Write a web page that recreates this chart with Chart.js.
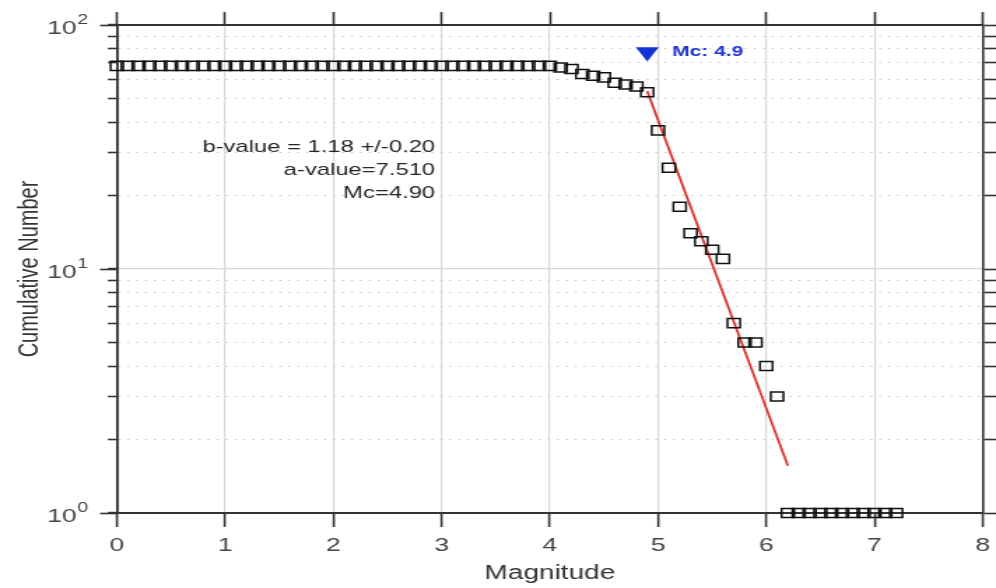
<!DOCTYPE html>
<html>
<head>
<meta charset="utf-8">
<script src="https://cdn.jsdelivr.net/npm/chart.js@4.4.1/dist/chart.umd.min.js"></script>
<style>
html,body{margin:0;padding:0;background:#fff;overflow:hidden}
#c{display:block;width:996px!important;height:588px!important}
</style>
</head>
<body>
<canvas id="c" width="712" height="588" style="width:996px;height:588px"></canvas>
<script>
// ---- data ----
const magnitudes = [
  0.0,0.1,0.2,0.3,0.4,0.5,0.6,0.7,0.8,0.9,
  1.0,1.1,1.2,1.3,1.4,1.5,1.6,1.7,1.8,1.9,
  2.0,2.1,2.2,2.3,2.4,2.5,2.6,2.7,2.8,2.9,
  3.0,3.1,3.2,3.3,3.4,3.5,3.6,3.7,3.8,3.9,
  4.0,4.1,4.2,4.3,4.4,4.5,4.6,4.7,4.8,4.9,
  5.0,5.1,5.2,5.3,5.4,5.5,5.6,5.7,5.8,5.9,
  6.0,6.1,6.2,6.3,6.4,6.5,6.6,6.7,6.8,6.9,
  7.0,7.1,7.2
];
const cumulativeNumber = [
  68,68,68,68,68,68,68,68,68,68,
  68,68,68,68,68,68,68,68,68,68,
  68,68,68,68,68,68,68,68,68,68,
  68,68,68,68,68,68,68,68,68,68,
  68,67,66,63,62,61,58,57,56,53,
  37,26,18,14,13,12,11,6,5,5,
  4,3,1,1,1,1,1,1,1,1,
  1,1,1
];
const fitMagnitudes = [4.9, 6.2];
const fitValues = [53.5, 1.56];
const mcMagnitude = [4.9];
const mcMarkerValue = [77.5];
const xTickValues = [0,1,2,3,4,5,6,7,8];
const yTickValues = [1,2,3,4,5,6,7,8,9,10,20,30,40,50,60,70,80,90,100];
const yMajorTickValues = [1,10,100];
const annotationLines = ['b-value = 1.18 +/-0.20', 'a-value=7.510', 'Mc=4.90'];
const mcLabel = 'Mc: 4.9';
const xTitle = 'Magnitude';
const yTitle = 'Cumulative Number';

// ---- chart ----
const FONT = '"Liberation Sans", Arial, Helvetica, sans-serif';
const AXIS = '#333333';
const isMajor = v => yMajorTickValues.includes(v);

const textPlugin = {
  id: 'textPlugin',
  afterDraw(chart) {
    const ctx = chart.ctx;
    const xs = chart.scales.x, ys = chart.scales.y, ym = chart.scales.yMajor;
    ctx.save();
    // y tick labels 10^n
    ctx.fillStyle = '#444444';
    ctx.textBaseline = 'middle';
    ctx.textAlign = 'right';
    for (const t of ym.ticks) {
      const py = ym.getPixelForValue(t.value);
      const exp = String(Math.round(Math.log10(t.value)));
      const rightX = ym.right - 20.5;
      ctx.font = '14px ' + FONT;
      const ew = ctx.measureText(exp).width;
      ctx.fillText(exp, rightX, py - 5);
      ctx.font = '19px ' + FONT;
      ctx.fillText('10', rightX - ew - 0.5, py + 4);
    }
    // statistics text
    ctx.fillStyle = '#262626';
    ctx.font = '17px ' + FONT;
    ctx.textAlign = 'right';
    const ax = xs.getPixelForValue(2.94);
    const ay = ys.getPixelForValue(31.6);
    annotationLines.forEach((s, i) => ctx.fillText(s, ax, ay + i * 23));
    // Mc label
    ctx.fillStyle = '#2034cf';
    ctx.font = 'bold 15px ' + FONT;
    ctx.textAlign = 'left';
    ctx.fillText(mcLabel, xs.getPixelForValue(5.13), ys.getPixelForValue(mcMarkerValue[0]));
    ctx.restore();
  }
};

const setTicks = vals => s => { s.ticks = vals.map(v => ({value: v})); };

new Chart(document.getElementById('c'), {
  type: 'scatter',
  data: {
    datasets: [
      {
        label: 'fit',
        data: fitMagnitudes.map((m, i) => ({x: m, y: fitValues[i]})),
        showLine: true,
        borderColor: '#d9342f',
        borderWidth: 1.8,
        pointRadius: 0,
        fill: false,
        order: 2
      },
      {
        label: 'Cumulative Number',
        data: magnitudes.map((m, i) => ({x: m, y: cumulativeNumber[i]})),
        pointStyle: 'rect',
        pointRadius: 6.4,
        pointBorderWidth: 1.5,
        borderColor: '#111111',
        backgroundColor: 'rgba(0,0,0,0)',
        showLine: false,
        clip: false,
        order: 1
      },
      {
        label: 'Mc',
        data: mcMagnitude.map((m, i) => ({x: m, y: mcMarkerValue[i]})),
        pointStyle: 'triangle',
        rotation: 180,
        pointRadius: 9.5,
        pointBorderWidth: 0,
        backgroundColor: '#1233d6',
        borderColor: '#1233d6',
        clip: false,
        order: 0
      }
    ]
  },
  options: {
    responsive: false,
    animation: false,
    events: [],
    layout: { padding: 0 },
    plugins: { legend: { display: false }, tooltip: { enabled: false } },
    scales: {
      x: {
        type: 'linear', position: 'bottom', min: 0, max: 8,
        afterBuildTicks: setTicks(xTickValues),
        afterFit: s => { s.height = 75; s.paddingLeft = 0; s.paddingRight = 0; },
        grid: { color: '#d8d8d8', lineWidth: 1.2, tickColor: AXIS, tickLength: 14, tickWidth: 1.6 },
        border: { color: AXIS, width: 2 },
        ticks: { color: '#444444', font: { family: FONT, size: 19 }, padding: 7, maxRotation: 0, callback: v => String(v) },
        title: { display: true, text: xTitle, color: '#333333', font: { family: FONT, size: 20 }, padding: { top: 0, bottom: 3 } }
      },
      xTop: {
        type: 'linear', position: 'top', min: 0, max: 8,
        afterBuildTicks: setTicks(xTickValues),
        afterFit: s => { s.height = 25; s.paddingLeft = 0; s.paddingRight = 0; },
        grid: { drawOnChartArea: false, tickColor: AXIS, tickLength: 13, tickWidth: 1.6 },
        border: { color: AXIS, width: 2 },
        ticks: { display: false }
      },
      y: {
        type: 'logarithmic', position: 'left', min: 1, max: 100, weight: 0,
        afterBuildTicks: setTicks(yTickValues),
        afterFit: s => { s.width = 0; },
        grid: {
          color: c => (c.tick && isMajor(c.tick.value)) ? '#d8d8d8' : '#bdbdbd',
          lineWidth: c => (c.tick && isMajor(c.tick.value)) ? 1.2 : 1,
          tickColor: AXIS, tickLength: 6.5, tickWidth: 1.6
        },
        border: { color: AXIS, width: 1.6, dash: c => (c.tick && !isMajor(c.tick.value)) ? [1.2, 5.2] : [] },
        ticks: { display: false }
      },
      yMajor: {
        type: 'logarithmic', position: 'left', min: 1, max: 100, weight: 1,
        afterBuildTicks: setTicks(yMajorTickValues),
        afterFit: s => { s.width = 83.6; },
        grid: { drawOnChartArea: false, tickColor: AXIS, tickLength: 12, tickWidth: 1.6 },
        border: { color: AXIS, width: 1.6 },
        ticks: { display: false },
        title: { display: true, text: yTitle, color: '#333333', font: { family: FONT, size: 20 }, padding: { top: 9, bottom: 0 } }
      },
      yRight: {
        type: 'logarithmic', position: 'right', min: 1, max: 100,
        afterBuildTicks: setTicks(yTickValues),
        afterFit: s => { s.width = 9.3; },
        grid: { drawOnChartArea: false, tickColor: AXIS, tickLength: 10, tickWidth: 1.6 },
        border: { color: AXIS, width: 1.6 },
        ticks: { display: false }
      }
    }
  },
  plugins: [textPlugin]
});
</script>
</body>
</html>
